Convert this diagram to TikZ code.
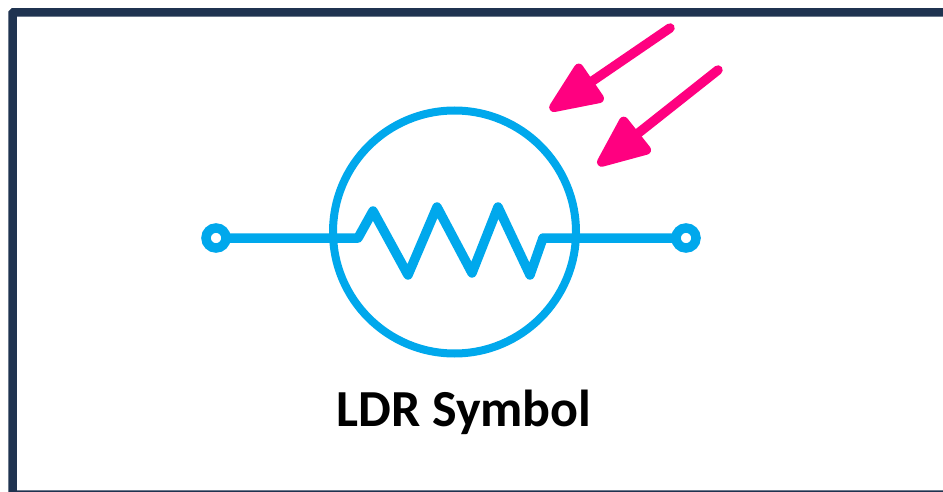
\documentclass[tikz,border=0pt]{standalone}
\usepackage{fontspec}
\setmainfont{Carlito}
\usetikzlibrary{arrows.meta}
\definecolor{framecol}{HTML}{1F3350}
\definecolor{wirecol}{HTML}{00A8EC}
\definecolor{raycol}{HTML}{FF0080}
\tikzstyle{wire} = [draw=wirecol, line width=9.5pt, line join=round]
\tikzstyle{terminal} = [circle, draw=wirecol, line width=9.5pt, fill=white, minimum size=20pt, inner sep=0pt, outer sep=0pt]
\tikzstyle{body} = [circle, draw=wirecol, line width=8pt, minimum size=243pt, inner sep=0pt, outer sep=0pt]
\tikzstyle{ray} = [draw=raycol, line width=9.5pt, line cap=round, -{Triangle[length=60pt,width=48pt,round]}]
\tikzstyle{caption} = [font=\fontsize{52}{52}\selectfont\bfseries, text=black, inner sep=0pt]

\begin{document}
\begin{tikzpicture}[x=1pt,y=-1pt]
\clip (0,0) rectangle (943,492);
\fill [white] (0,0) rectangle (943,492);
\draw [framecol, line width=8.5pt, rounded corners=1pt] (12.5,12.5) rectangle (960,494.5);

\node (ldr) [body] at (454.5,232) {};
\node (termL) [terminal] at (216,238) {};
\node (termR) [terminal] at (686,238) {};
\node (title) [caption] at (464,412) {LDR Symbol};

\coordinate (zigL) at (358,238);
\coordinate (zigR) at (543,238);
\coordinate (ray1a) at (670,28);
\coordinate (ray1b) at (550,110);
\coordinate (ray2a) at (718,70);
\coordinate (ray2b) at (598,165);

\draw [wire] (termL) -- (zigL) -- (373,211) -- (408,275) -- (437,207) -- (472,273) -- (498,207) -- (530,275) -- (zigR) -- (termR);
\draw [ray] (ray1a) -- (ray1b);
\draw [ray] (ray2a) -- (ray2b);

\end{tikzpicture}
\end{document}
